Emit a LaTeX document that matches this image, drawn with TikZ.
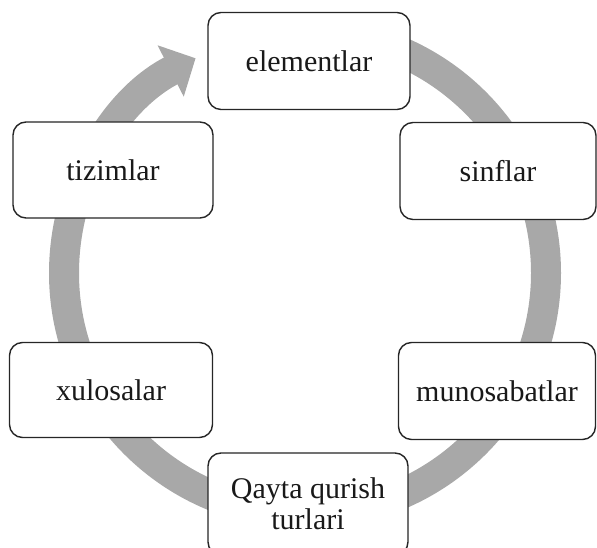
\documentclass[tikz,border=0pt]{standalone}
\usepackage{fontspec}
\setmainfont{Liberation Serif}
\usetikzlibrary{arrows.meta}

\begin{document}
\begin{tikzpicture}[
  x=1pt,y=1pt,
  every node/.style={font=\fontsize{30}{33}\selectfont,text=black!90},
  stagebox/.style={draw=black!85,line width=1.4pt,rounded corners=13pt,
    fill=white,align=center,minimum width=200pt,minimum height=96pt,inner sep=2pt},
  cyclearrow/.style={line width=30pt,draw=gray!68,
    -{Triangle[width=56pt,length=28pt]}}
]
  \clip (0,0) rectangle (597,548);
  \coordinate (hub) at (305,275);

  % gray cycle behind the boxes
  \draw[cyclearrow] (hub) ++(90:241) arc[start angle=90,end angle=-243,radius=241];

  \node[stagebox,minimum width=202pt,minimum height=97pt] (elem) at (309,487) {elementlar};
  \node[stagebox,minimum width=196pt,minimum height=97pt] (sinf) at (498,377) {sinflar};
  \node[stagebox] (tizim) at (113,378) {tizimlar};
  \node[stagebox,minimum width=203pt,minimum height=95pt] (xulosa) at (111,158) {xulosalar};
  \node[stagebox,minimum width=197pt,minimum height=97pt] (munos) at (497,157) {munosabatlar};
  \node[stagebox,minimum height=102pt] (qayta) at (308,44) {Qayta qurish\\[-2pt]turlari};
\end{tikzpicture}
\end{document}
